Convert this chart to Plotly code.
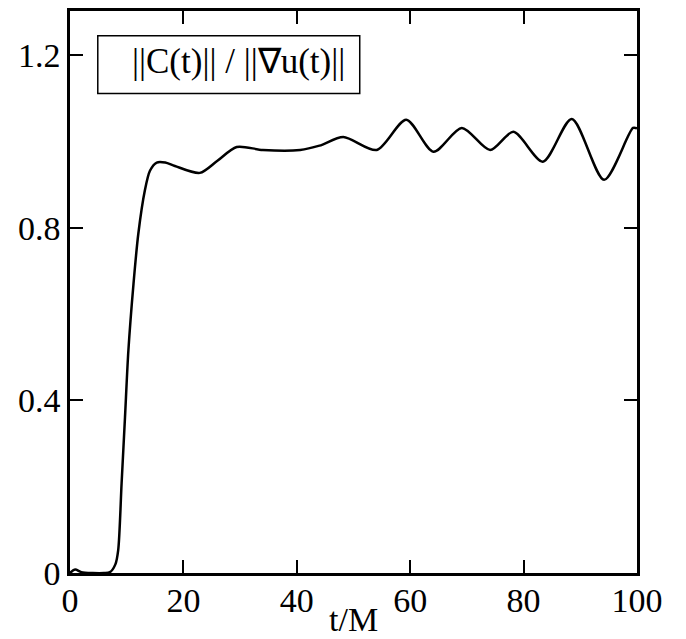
import plotly.graph_objects as go

# ratio of constraint norm to gradient norm versus time
t_over_m = [0, 0.9, 2, 4, 6, 7.05, 8, 8.5, 9.1, 9.7, 10.3, 11.2, 12.05, 13.2, 14.1,
            15.3, 16.8, 18.5, 22.9, 26, 29.4, 34, 40.6, 44, 48.2, 54.1, 59.3, 64.1,
            69.1, 74.1, 78.2, 83.4, 88.5, 94.2, 99.3, 100]
ratio = [0.0, 0.008, 0.002, 0.0, 0.0, 0.002, 0.02, 0.053, 0.208, 0.361, 0.516, 0.670,
         0.786, 0.886, 0.932, 0.951, 0.951, 0.943, 0.927, 0.955, 0.987, 0.980, 0.980,
         0.990, 1.010, 0.980, 1.050, 0.976, 1.031, 0.980, 1.022, 0.953, 1.052, 0.911,
         1.031, 1.030]

x_ticks = [0, 20, 40, 60, 80, 100]
y_ticks = [0, 0.4, 0.8, 1.2]
y_tick_text = ["0", "0.4", "0.8", "1.2"]
legend_text = "||C(t)|| / ||\u2207u(t)||"
x_title = "t/M"

serif = "Liberation Serif, Times New Roman, serif"

fig = go.Figure()
fig.add_trace(go.Scatter(
    x=t_over_m, y=ratio, mode="lines",
    line=dict(color="black", width=2.5, shape="spline", smoothing=0.8),
    showlegend=False, hoverinfo="skip",
))

axis_common = dict(
    showgrid=False, zeroline=False, showline=True, linecolor="black", linewidth=2.5,
    mirror="ticks", ticks="inside", ticklen=13, tickwidth=2, tickcolor="black",
    tickfont=dict(family=serif, size=34, color="black"),
)
fig.update_xaxes(range=[0, 100], tickvals=x_ticks, ticktext=[str(v) for v in x_ticks],
                 ticklabelstandoff=-5, **axis_common)
fig.update_yaxes(range=[0, 1.302], tickvals=y_ticks, ticktext=y_tick_text, **axis_common)

# boxed label for the curve
fig.add_shape(type="rect", xref="paper", yref="paper", x0=0.049, x1=0.511, y0=0.853, y1=0.956,
              line=dict(color="black", width=1.5), fillcolor="white")
fig.add_annotation(xref="paper", yref="paper", x=0.298, y=0.91, text=legend_text,
                   showarrow=False, font=dict(family=serif, size=35, color="black"),
                   xanchor="center", yanchor="middle")
fig.add_annotation(xref="paper", yref="paper", x=(353 - 70) / 567, y=(573 - 620) / 565,
                   text=x_title, showarrow=False,
                   font=dict(family=serif, size=34, color="black"),
                   xanchor="center", yanchor="middle")

fig.update_layout(
    width=686, height=639, autosize=False,
    margin=dict(l=70, r=49, t=8, b=66),
    paper_bgcolor="white", plot_bgcolor="white",
)

fig.write_html("out.html")
